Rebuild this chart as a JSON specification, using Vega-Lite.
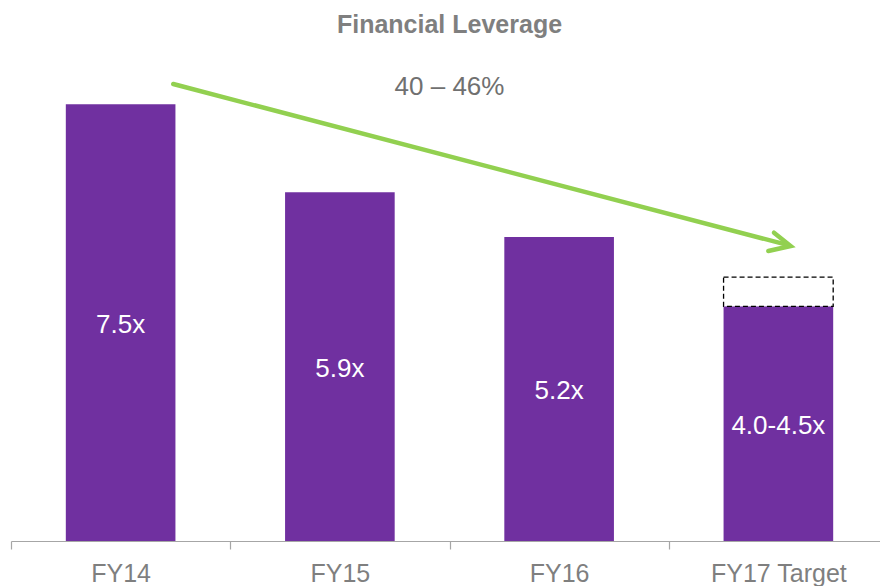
{
  "$schema": "https://vega.github.io/schema/vega-lite/v6.json",
  "autosize": {"type": "none"},
  "width": 869,
  "height": 495,
  "padding": {"left": 11, "right": 0, "top": 46, "bottom": 45},
  "background": "white",
  "title": {
    "text": "Financial Leverage",
    "font": "Liberation Sans",
    "fontSize": 25,
    "fontWeight": "bold",
    "color": "#7f7f7f",
    "anchor": "middle",
    "baseline": "alphabetic",
    "offset": 14,
    "dx": 4,
    "dy": 26
  },
  "config": {
    "view": {"stroke": null},
    "font": "Liberation Sans"
  },
  "datasets": {
    "bars": [
      {"cat": "FY14", "value": 7.5, "label": "7.5x"},
      {"cat": "FY15", "value": 5.99, "label": "5.9x"},
      {"cat": "FY16", "value": 5.22, "label": "5.2x"},
      {"cat": "FY17 Target", "value": 4.03, "label": "4.0-4.5x", "high": 4.53}
    ],
    "arrow": [
      {"seg": "shaft", "ord": 1, "x": 0.74, "y": 7.847},
      {"seg": "shaft", "ord": 2, "x": 3.545, "y": 5.08},
      {"seg": "head", "ord": 1, "x": 3.48, "y": 5.294},
      {"seg": "head", "ord": 2, "x": 3.556, "y": 5.066},
      {"seg": "head", "ord": 3, "x": 3.454, "y": 4.98}
    ],
    "note": [
      {"x": 2.0, "y": 7.66, "text": "40 – 46%"}
    ]
  },
  "layer": [
    {
      "data": {"name": "bars"},
      "layer": [
        {
          "mark": {"type": "bar", "color": "#7030a0", "width": {"band": 0.5}},
          "encoding": {
            "x": {
              "field": "cat",
              "type": "nominal",
              "sort": null,
              "scale": {
                "domain": ["FY14", "FY15", "FY16", "FY17 Target"],
                "range": [0, 877],
                "paddingInner": 0,
                "paddingOuter": 0
              },
              "axis": {
                "title": null,
                "labelAngle": 0,
                "labelFont": "Liberation Sans",
                "labelFontSize": 25,
                "labelColor": "#7f7f7f",
                "labelBaseline": "alphabetic",
                "labelPadding": 32,
                "domainColor": "#a6a6a6",
                "domainWidth": 1.2,
                "tickColor": "#a6a6a6",
                "tickWidth": 1.2,
                "tickSize": 8,
                "tickBand": "extent",
                "grid": false
              }
            },
            "y": {
              "field": "value",
              "type": "quantitative",
              "scale": {"domain": [0, 8.5], "nice": false, "zero": true},
              "axis": null
            }
          }
        },
        {
          "transform": [{"filter": "isValid(datum.high)"}],
          "mark": {"type": "bar", "fill": "white", "stroke": "#000000", "strokeWidth": 1.3, "strokeDash": [5, 3], "width": {"band": 0.5}},
          "encoding": {
            "x": {"field": "cat", "type": "nominal", "sort": null},
            "y": {"field": "value", "type": "quantitative"},
            "y2": {"field": "high"}
          }
        },
        {
          "transform": [{"calculate": "datum.value / 2", "as": "mid"}],
          "mark": {"type": "text", "color": "white", "font": "Liberation Sans", "fontSize": 26, "baseline": "middle", "dy": 2},
          "encoding": {
            "x": {"field": "cat", "type": "nominal", "sort": null},
            "y": {"field": "mid", "type": "quantitative"},
            "text": {"field": "label"}
          }
        }
      ]
    },
    {
      "layer": [
        {
          "data": {"name": "arrow"},
          "mark": {"type": "line", "color": "#92d050", "strokeWidth": 4.5, "strokeCap": "round", "strokeJoin": "miter"},
          "encoding": {
            "x": {"field": "x", "type": "quantitative", "scale": {"domain": [0, 4], "range": [0, 877], "nice": false}, "axis": null},
            "y": {"field": "y", "type": "quantitative", "scale": {"domain": [0, 8.5], "nice": false}, "axis": null},
            "detail": {"field": "seg"},
            "order": {"field": "ord"}
          }
        },
        {
          "data": {"name": "note"},
          "mark": {"type": "text", "color": "#707070", "font": "Liberation Sans", "fontSize": 26, "baseline": "alphabetic", "align": "center"},
          "encoding": {
            "x": {"field": "x", "type": "quantitative"},
            "y": {"field": "y", "type": "quantitative"},
            "text": {"field": "text"}
          }
        }
      ]
    }
  ],
  "resolve": {"scale": {"x": "independent"}}
}
